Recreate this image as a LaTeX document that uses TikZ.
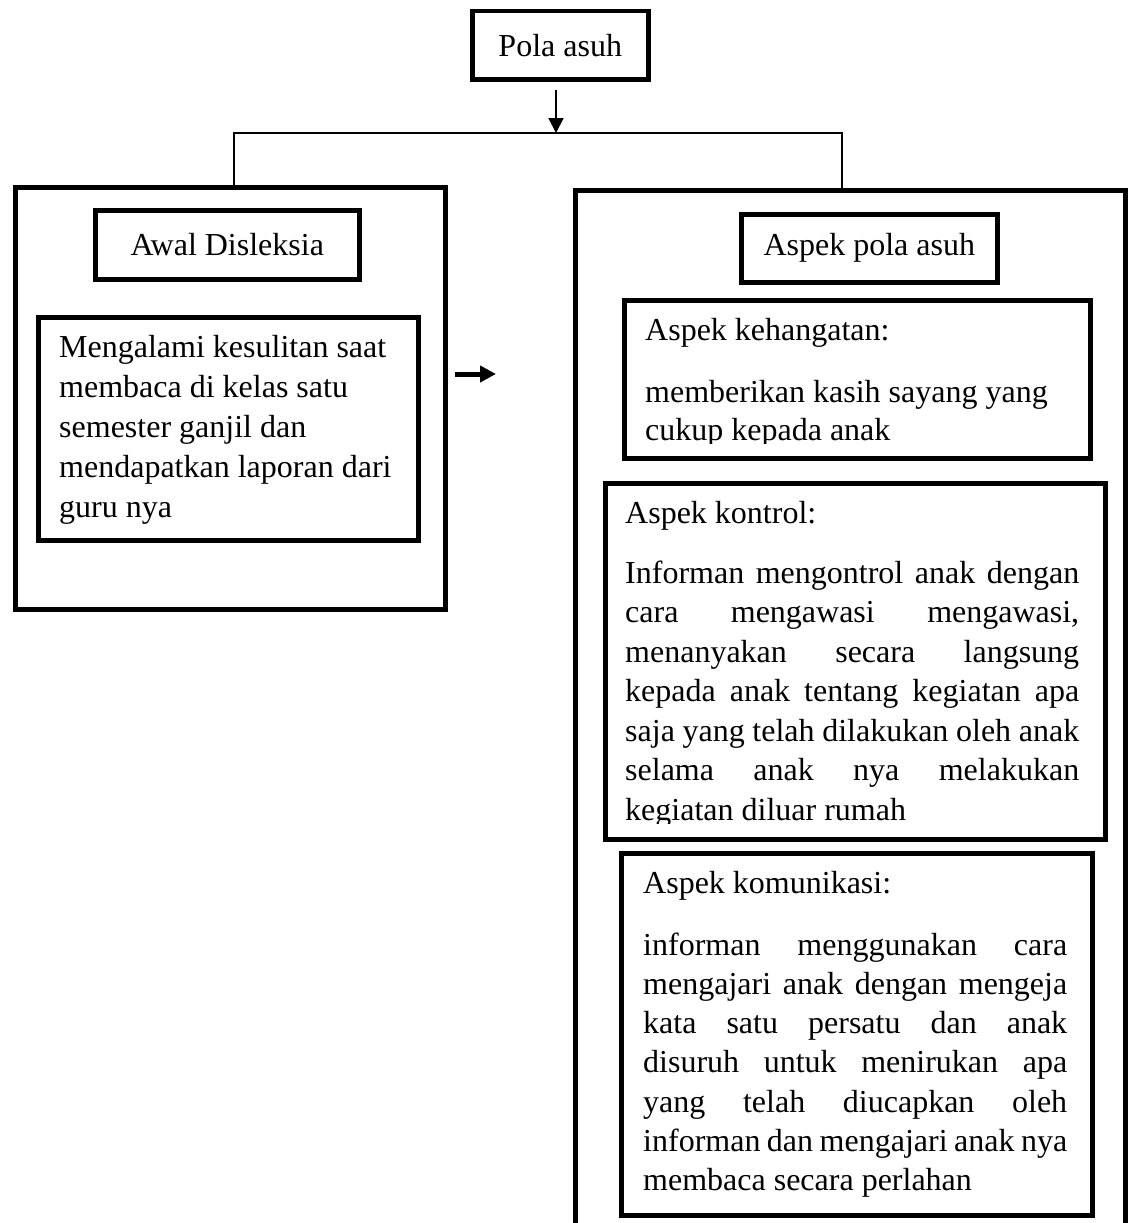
\documentclass[tikz,border=0pt]{standalone}
\usepackage{fontspec}
\setmainfont{Liberation Serif}
\usetikzlibrary{arrows.meta,calc}
\newcommand{\pf}[1]{\fontsize{32}{#1}\selectfont}
\newcommand{\jl}[2]{\makebox[#1][s]{#2}}
\begin{document}
\begin{tikzpicture}[x=1pt,y=-1pt,
  every node/.style={font=\pf{40}},
  box/.style={draw, rectangle, line width=4.5pt, inner sep=0pt},
  outerbox/.style={draw, rectangle, line width=5pt, inner sep=0pt},
  conn/.style={line width=2pt},
  bigtip/.style={-{Triangle[length=15pt,width=15pt]}},
  fatarrow/.style={line width=5pt, -{Triangle[length=16pt,width=16pt]}},
  txt/.style={inner sep=0pt, anchor=base west}]
\useasboundingbox[fill=white] (0,0) rectangle (1127,1223);

% boxes
\node[box, minimum width=176pt, minimum height=68pt, anchor=north west] (pola) at (470,9) {Pola asuh};
\node[outerbox, minimum width=430pt, minimum height=422pt, anchor=north west] (left) at (13,185) {};
\node[box, minimum width=264pt, minimum height=69pt, anchor=north west] (awal) at (93,208) {Awal Disleksia};
\node[box, minimum width=380pt, minimum height=223pt, anchor=north west] (lbody) at (36,315) {};
\node[outerbox, minimum width=550pt, minimum height=1037pt, anchor=north west] (right) at (573,188) {};
\node[box, minimum width=256pt, minimum height=68pt, anchor=north west] (aspek) at (739,212) {Aspek pola asuh};
\node[box, minimum width=466pt, minimum height=158pt, anchor=north west] (hang) at (622,298) {};
\node[box, minimum width=500pt, minimum height=356pt, anchor=north west] (kont) at (603,481) {};
\node[box, minimum width=471pt, minimum height=362pt, anchor=north west] (kom) at (619,851) {};

% connectors
\coordinate (arrstart) at (556,90);
\coordinate (split) at (556,133);
\coordinate (jl) at (234,133);
\coordinate (jr) at (842,133);
\draw[conn] (jl |- left.north) -- (jl) -- (jr) -- (jr |- right.north);
\draw[conn, bigtip] (arrstart) -- (split);
\coordinate (sa) at (455,374);
\coordinate (sb) at (496,374);
\draw[fatarrow] (sa) -- (sb);

% left text
\node[txt] (t1) at (59,357) {\parbox[t]{370pt}{\pf{40}Mengalami kesulitan saat\\membaca di kelas satu\\semester ganjil dan\\mendapatkan laporan dari\\guru nya}};

% kehangatan
\node[txt] (h1) at (645,340) {Aspek kehangatan:};
\begin{scope}
\clip (622,298) rectangle (1088,443);
\node[txt] (h2) at (645,402) {\parbox[t]{430pt}{\pf{38}memberikan kasih sayang yang\\cukup kepada anak}};
\end{scope}

% kontrol
\node[txt] (k1) at (625,523) {Aspek kontrol:};
\begin{scope}
\clip (603,481) rectangle (1103,823);
\node[txt] (k2) at (625,583) {\parbox[t]{454pt}{\pf{39.5}%
\jl{454pt}{Informan mengontrol anak dengan}\\
\jl{454pt}{cara mengawasi mengawasi,}\\
\jl{454pt}{menanyakan secara langsung}\\
\jl{454pt}{kepada anak tentang kegiatan apa}\\
\jl{454pt}{saja yang telah dilakukan oleh anak}\\
\jl{454pt}{selama anak nya melakukan}\\
kegiatan diluar rumah}};
\end{scope}

% komunikasi
\node[txt] (m1) at (643,893) {Aspek komunikasi:};
\node[txt] (m2) at (643,955) {\parbox[t]{426pt}{\pf{39.3}%
\jl{424pt}{informan menggunakan cara}\\
\jl{424pt}{mengajari anak dengan mengeja}\\
\jl{424pt}{kata satu persatu dan anak}\\
\jl{424pt}{disuruh untuk menirukan apa}\\
\jl{424pt}{yang telah diucapkan oleh}\\
\jl{424pt}{informan dan mengajari anak nya}\\
membaca secara perlahan}};
\end{tikzpicture}
\end{document}
